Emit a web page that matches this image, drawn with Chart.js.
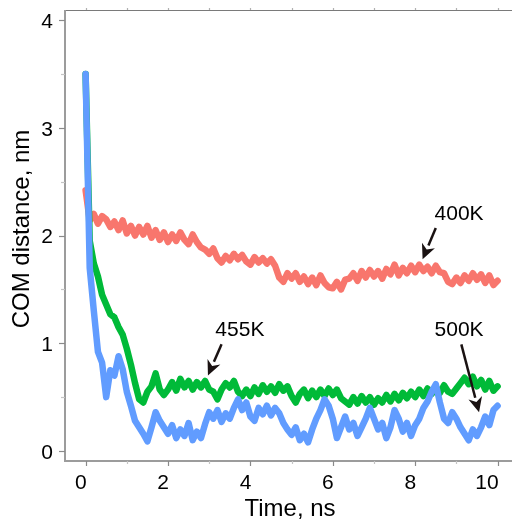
<!DOCTYPE html>
<html>
<head>
<meta charset="utf-8">
<script src="https://cdn.jsdelivr.net/npm/chart.js@4"></script>
<style>
  html, body { margin: 0; padding: 0; background: #fff; }
  #wrap { width: 512px; height: 519px; }
</style>
</head>
<body>
<div id="wrap"><canvas id="comChart" width="512" height="519"></canvas></div>
<script>
// sampled every 0.1 ns
const dt = 0.1;
const red400 = [2.42, 2.14, 2.20, 2.11, 2.18, 2.15, 2.08, 2.13, 2.05, 2.14,
    2.02, 2.09, 2.00, 2.08, 2.01, 2.09, 1.98, 2.05, 1.96, 2.03,
    1.94, 2.01, 1.95, 2.03, 1.96, 1.92, 2.01, 1.94, 1.89, 1.87,
    1.83, 1.88, 1.79, 1.75, 1.81, 1.77, 1.83, 1.78, 1.82, 1.76,
    1.73, 1.80, 1.75, 1.79, 1.74, 1.78, 1.72, 1.61, 1.57, 1.65,
    1.60, 1.65, 1.57, 1.62, 1.55, 1.61, 1.54, 1.63, 1.56, 1.52,
    1.51, 1.57, 1.50, 1.59, 1.60, 1.65, 1.58, 1.67, 1.61, 1.68,
    1.62, 1.67, 1.60, 1.69, 1.64, 1.73, 1.63, 1.70, 1.65, 1.72,
    1.66, 1.73, 1.67, 1.71, 1.65, 1.72, 1.66, 1.65, 1.57, 1.55,
    1.61, 1.56, 1.63, 1.58, 1.65, 1.59, 1.64, 1.56, 1.63, 1.54,
    1.58];
const green455 = [3.50, 1.95, 1.74, 1.62, 1.45, 1.36, 1.27, 1.24, 1.15, 1.08,
    0.95, 0.80, 0.63, 0.48, 0.45, 0.55, 0.60, 0.72, 0.57, 0.52,
    0.57, 0.64, 0.56, 0.67, 0.59, 0.65, 0.57, 0.64, 0.59, 0.65,
    0.57, 0.55, 0.48, 0.57, 0.63, 0.59, 0.65, 0.55, 0.51, 0.57,
    0.51, 0.59, 0.53, 0.61, 0.55, 0.60, 0.54, 0.62, 0.56, 0.60,
    0.51, 0.45, 0.53, 0.57, 0.49, 0.56, 0.50, 0.57, 0.51, 0.58,
    0.52, 0.57, 0.49, 0.46, 0.43, 0.50, 0.44, 0.51, 0.45, 0.50,
    0.43, 0.49, 0.45, 0.52, 0.46, 0.53, 0.47, 0.54, 0.49, 0.55,
    0.50, 0.57, 0.51, 0.58, 0.53, 0.59, 0.54, 0.61, 0.55, 0.53,
    0.58, 0.63, 0.68, 0.62, 0.69, 0.60, 0.66, 0.57, 0.65, 0.56,
    0.60];
const blue500 = [3.50, 1.70, 1.30, 0.92, 0.82, 0.50, 0.75, 0.70, 0.88, 0.76,
    0.55, 0.42, 0.28, 0.22, 0.16, 0.09, 0.22, 0.36, 0.28, 0.22,
    0.16, 0.24, 0.12, 0.20, 0.14, 0.26, 0.10, 0.18, 0.12, 0.25,
    0.36, 0.30, 0.38, 0.27, 0.35, 0.30, 0.40, 0.48, 0.38, 0.45,
    0.32, 0.28, 0.40, 0.34, 0.42, 0.33, 0.40, 0.35, 0.26, 0.20,
    0.15, 0.22, 0.10, 0.16, 0.08, 0.20, 0.30, 0.38, 0.48, 0.42,
    0.30, 0.12, 0.22, 0.32, 0.20, 0.26, 0.14, 0.22, 0.30, 0.40,
    0.30, 0.20, 0.26, 0.12, 0.22, 0.38, 0.30, 0.18, 0.26, 0.14,
    0.24, 0.30, 0.40, 0.46, 0.55, 0.62, 0.45, 0.30, 0.26, 0.36,
    0.30, 0.22, 0.16, 0.10, 0.20, 0.14, 0.22, 0.32, 0.24, 0.38,
    0.42];
const xTicks = [0, 2, 4, 6, 8, 10];
const yTicks = [0, 1, 2, 3, 4];
// label text, anchor of text (time, value), arrow from -> to
const notes = [
    { text: '400K', at: [8.47, 2.20], from: [8.50, 2.07], to: [8.18, 1.78] },
    { text: '455K', at: [3.15, 1.12], from: [3.30, 0.99], to: [2.97, 0.70] },
    { text: '500K', at: [8.47, 1.12], from: [9.12, 0.99], to: [9.55, 0.36] }
];

const toPoints = arr => arr.map((v, i) => ({ x: +(i * dt).toFixed(2), y: v }));

const frame = {
    id: 'frame',
    afterDraw(chart) {
        const { ctx, chartArea: a, scales: { x, y } } = chart;
        ctx.save();
        // top border
        ctx.strokeStyle = '#7a7a7a';
        ctx.lineWidth = 1;
        ctx.beginPath();
        ctx.moveTo(a.left, a.top + 0.5);
        ctx.lineTo(a.right, a.top + 0.5);
        ctx.stroke();
        // axis lines
        ctx.strokeStyle = '#9c9c9c';
        ctx.lineWidth = 2;
        ctx.beginPath();
        ctx.moveTo(a.left, a.top);
        ctx.lineTo(a.left, a.bottom);
        ctx.lineTo(a.right, a.bottom);
        ctx.stroke();
        // ticks
        ctx.lineWidth = 1.2;
        for (let v = 0; v <= 4; v += 0.5) {
            const py = Math.round(y.getPixelForValue(v)) + 0.5;
            const major = Number.isInteger(v);
            ctx.strokeStyle = major ? '#8a8a8a' : '#c4c4c4';
            ctx.beginPath();
            ctx.moveTo(a.left - (major ? 6 : 4), py);
            ctx.lineTo(a.left, py);
            ctx.stroke();
        }
        for (let v = 0; v <= 10; v++) {
            const px = Math.round(x.getPixelForValue(v)) + 0.5;
            const major = v % 2 === 0;
            ctx.strokeStyle = major ? '#8a8a8a' : '#c4c4c4';
            ctx.beginPath();
            ctx.moveTo(px, a.bottom);
            ctx.lineTo(px, a.bottom + (major ? 5 : 3));
            ctx.stroke();
            ctx.strokeStyle = '#b0b0b0';
            ctx.beginPath();
            ctx.moveTo(px, a.top);
            ctx.lineTo(px, a.top - 2);
            ctx.stroke();
        }
        // tick labels
        ctx.fillStyle = '#000';
        ctx.font = '21px "Liberation Sans", Arial, sans-serif';
        ctx.textAlign = 'right';
        ctx.textBaseline = 'middle';
        yTicks.forEach(v => ctx.fillText(String(v), 53, y.getPixelForValue(v) + 2));
        xTicks.forEach(v => ctx.fillText(String(v), x.getPixelForValue(v) + 1, 483));
        // axis titles
        ctx.font = '24px "Liberation Sans", Arial, sans-serif';
        ctx.textAlign = 'center';
        ctx.textBaseline = 'alphabetic';
        ctx.fillText('Time, ns', 290, 516);
        ctx.save();
        ctx.translate(29, 229);
        ctx.rotate(-Math.PI / 2);
        ctx.fillText('COM distance, nm', 0, 0);
        ctx.restore();
        // annotations
        ctx.font = '21px "Liberation Sans", Arial, sans-serif';
        ctx.textAlign = 'left';
        ctx.textBaseline = 'middle';
        notes.forEach(n => {
            ctx.fillStyle = '#000';
            ctx.fillText(n.text, x.getPixelForValue(n.at[0]), y.getPixelForValue(n.at[1]));
            const x0 = x.getPixelForValue(n.from[0]), y0 = y.getPixelForValue(n.from[1]);
            const x1 = x.getPixelForValue(n.to[0]), y1 = y.getPixelForValue(n.to[1]);
            const ang = Math.atan2(y1 - y0, x1 - x0);
            const len = 15, half = 7;
            const bx = x1 - len * Math.cos(ang), by = y1 - len * Math.sin(ang);
            ctx.strokeStyle = '#1a1212';
            ctx.lineWidth = 2.5;
            ctx.beginPath();
            ctx.moveTo(x0, y0);
            ctx.lineTo(bx, by);
            ctx.stroke();
            ctx.fillStyle = '#1a1212';
            ctx.beginPath();
            ctx.moveTo(x1, y1);
            ctx.lineTo(bx + half * Math.sin(ang), by - half * Math.cos(ang));
            ctx.lineTo(x1 - 0.7 * len * Math.cos(ang), y1 - 0.7 * len * Math.sin(ang));
            ctx.lineTo(bx - half * Math.sin(ang), by + half * Math.cos(ang));
            ctx.closePath();
            ctx.fill();
        });
        ctx.restore();
    }
};

const lineSet = (label, arr, color, order) => ({
    label: label,
    data: toPoints(arr),
    borderColor: color,
    borderWidth: 6.5,
    borderJoinStyle: 'round',
    borderCapStyle: 'round',
    pointRadius: 0,
    tension: 0,
    fill: false,
    order: order
});

new Chart(document.getElementById('comChart'), {
    type: 'line',
    data: {
        datasets: [
            lineSet('400K', red400, '#F8766D', 3),
            lineSet('455K', green455, '#00BA38', 2),
            lineSet('500K', blue500, '#619CFF', 1)
        ]
    },
    options: {
        responsive: false,
        animation: false,
        layout: { padding: { left: 65, top: 10, right: 0, bottom: 58 } },
        scales: {
            x: { type: 'linear', min: -0.5, max: 10.35, display: false },
            y: { type: 'linear', min: -0.093, max: 4.094, display: false }
        },
        plugins: {
            legend: { display: false },
            tooltip: { enabled: false }
        }
    },
    plugins: [frame]
});
</script>
</body>
</html>
